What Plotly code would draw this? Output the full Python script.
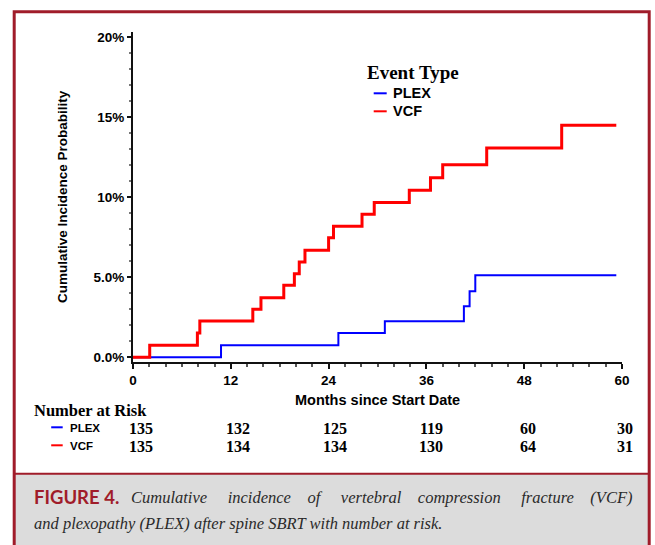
import plotly.graph_objects as go

# ---------------- data ----------------
vcf_months = [0, 2.05, 7.9, 8.2, 14.7, 15.7, 18.5, 19.8, 20.4, 21.1, 24.0, 24.6,
              28.1, 29.6, 33.9, 36.5, 38.0, 43.4, 52.6, 59.3]
vcf_cif = [0, 0.75, 1.52, 2.27, 3.0, 3.73, 4.5, 5.23, 5.96, 6.7, 7.48, 8.2,
           8.94, 9.67, 10.44, 11.23, 12.04, 13.08, 14.5, 14.5]

plex_months = [0, 10.8, 25.2, 30.9, 40.6, 41.3, 42.0, 59.3]
plex_cif = [0, 0.75, 1.52, 2.25, 3.19, 4.13, 5.13, 5.13]

risk_times = [0, 12, 24, 36, 48, 60]
risk_plex = [135, 132, 125, 119, 60, 30]
risk_vcf = [135, 134, 134, 130, 64, 31]

x_tick_vals = [0, 12, 24, 36, 48, 60]
y_tick_vals = [0, 5, 10, 15, 20]
y_tick_text = ["0.0%", "5.0%", "10%", "15%", "20%"]

series_names = ["PLEX", "VCF"]
series_colors = ["#0000ff", "#ff0000"]

caption_label = "FIGURE 4."
caption_line1 = "Cumulative incidence of vertebral compression fracture (VCF)"
caption_line2 = "and plexopathy (PLEX) after spine SBRT with number at risk."

# ---------------- layout geometry ----------------
W, H = 655, 545
L, R, T, B = 133.3, 32.7, 31.7, 183.3
PW, PH = W - L - R, H - T - B
DARK_RED = "#a01c2a"
SANS = "Liberation Sans, Arial, sans-serif"
SERIF = "Liberation Serif, Times New Roman, serif"


def px_x(px):
    return (px - L) / PW


def px_y(py):
    return (H - B - py) / PH


fig = go.Figure()
fig.add_trace(go.Scatter(x=plex_months, y=plex_cif, mode="lines", name="PLEX",
                         line=dict(color=series_colors[0], width=2, shape="hv")))
fig.add_trace(go.Scatter(x=vcf_months, y=vcf_cif, mode="lines", name="VCF",
                         line=dict(color=series_colors[1], width=3, shape="hv")))

shapes = []
annotations = []

# caption background + frame
shapes.append(dict(type="rect", xref="paper", yref="paper", layer="below",
                   x0=px_x(14.5), x1=px_x(649.5), y0=px_y(560), y1=px_y(473.5),
                   fillcolor="#dcdcdc", line=dict(width=0)))
shapes.append(dict(type="line", xref="paper", yref="paper",
                   x0=px_x(14.5), x1=px_x(649.5), y0=px_y(473.5), y1=px_y(473.5),
                   line=dict(color=DARK_RED, width=2)))
shapes.append(dict(type="rect", xref="paper", yref="paper",
                   x0=px_x(14.5), x1=px_x(649.5), y0=px_y(570), y1=px_y(11.5),
                   line=dict(color=DARK_RED, width=3)))

# legend (Event Type)
annotations.append(dict(xref="paper", yref="paper", x=px_x(413.5), y=px_y(72),
                        text="Event Type", showarrow=False, xanchor="center", yanchor="middle",
                        font=dict(family=SERIF, size=19, color="black", weight="bold")))
for i, (nm, col) in enumerate(zip(series_names, series_colors)):
    yy = [93, 111][i]
    shapes.append(dict(type="line", xref="paper", yref="paper",
                       x0=px_x(374), x1=px_x(387), y0=px_y(yy), y1=px_y(yy),
                       line=dict(color=col, width=2)))
    annotations.append(dict(xref="paper", yref="paper", x=px_x(391.5), y=px_y(yy),
                            text=nm, showarrow=False, xanchor="left", yanchor="middle",
                            font=dict(family=SANS, size=14.5, color="black", weight="bold")))

# axis titles
annotations.append(dict(xref="paper", yref="paper", x=0.5, y=px_y(400),
                        text="Months since Start Date", showarrow=False,
                        xanchor="center", yanchor="middle",
                        font=dict(family=SANS, size=14.5, color="black", weight="bold")))
annotations.append(dict(xref="paper", yref="paper", x=px_x(63), y=px_y(196),
                        text="Cumulative Incidence Probability", showarrow=False,
                        textangle=-90, xanchor="center", yanchor="middle",
                        font=dict(family=SANS, size=13.5, color="black", weight="bold")))

# number at risk table
annotations.append(dict(xref="paper", yref="paper", x=px_x(32), y=px_y(410),
                        text="Number at Risk", showarrow=False, xanchor="left", yanchor="middle",
                        font=dict(family=SERIF, size=16.5, color="black", weight="bold")))
for i, (nm, col, vals) in enumerate(zip(series_names, series_colors, [risk_plex, risk_vcf])):
    yy = [428, 446][i]
    shapes.append(dict(type="line", xref="paper", yref="paper",
                       x0=px_x(51.5), x1=px_x(63), y0=px_y(yy - 1), y1=px_y(yy - 1),
                       line=dict(color=col, width=2)))
    annotations.append(dict(xref="paper", yref="paper", x=px_x(68), y=px_y(yy),
                            text=nm, showarrow=False, xanchor="left", yanchor="middle",
                            font=dict(family=SANS, size=11.5, color="black", weight="bold")))
    for t, n in zip(risk_times, vals):
        annotations.append(dict(xref="x", yref="paper", x=t, y=px_y(yy),
                                xshift=round(8 - t / 12),
                                text=str(n), showarrow=False, xanchor="center", yanchor="middle",
                                font=dict(family=SERIF, size=16, color="black", weight="bold")))

# caption (first line spread out to mimic justified text)
words1 = caption_line1.split(" ")
gap_wide = " \u00a0\u00a0\u00a0\u00a0"
gap_narrow = " \u00a0\u00a0\u00a0"
line1_text = words1[0]
for k, w in enumerate(words1[1:]):
    line1_text += (gap_wide if k % 2 == 0 else gap_narrow) + w

annotations.append(dict(xref="paper", yref="paper", x=px_x(32), y=px_y(497),
                        text=caption_label, showarrow=False, xanchor="left", yanchor="middle",
                        font=dict(family="Lato, Open Sans, sans-serif", size=18.5, color=DARK_RED,
                                  weight="bold")))
annotations.append(dict(xref="paper", yref="paper", x=px_x(129), y=px_y(497),
                        text=line1_text,
                        showarrow=False, xanchor="left", yanchor="middle",
                        font=dict(family=SERIF, size=16.5, color="#2a2a2a", style="italic")))
annotations.append(dict(xref="paper", yref="paper", x=px_x(32), y=px_y(523),
                        text=caption_line2, showarrow=False, xanchor="left", yanchor="middle",
                        font=dict(family=SERIF, size=16.5, color="#2a2a2a", style="italic")))

fig.update_layout(
    width=W, height=H,
    margin=dict(l=L, r=R, t=T, b=B, autoexpand=False),
    paper_bgcolor="white", plot_bgcolor="white",
    showlegend=False,
    shapes=shapes, annotations=annotations,
    xaxis=dict(range=[0, 60], tickvals=x_tick_vals, showgrid=False, zeroline=False,
               showline=True, linecolor="#111", linewidth=2,
               ticks="outside", ticklen=5, tickwidth=1.5, tickcolor="#111",
               minor=dict(dtick=2, tick0=0, ticks="outside", ticklen=3, tickcolor="#555"),
               tickfont=dict(family=SANS, size=13.5, color="black", weight="bold")),
    yaxis=dict(range=[-0.29, 20.33], tickvals=y_tick_vals, ticktext=y_tick_text,
               showgrid=False, zeroline=False,
               showline=True, linecolor="#111", linewidth=2,
               ticks="outside", ticklen=4, tickwidth=1.5, tickcolor="#111",
               minor=dict(dtick=1, tick0=0, ticks="outside", ticklen=2, tickcolor="#777"),
               tickfont=dict(family=SANS, size=13.5, color="black", weight="bold")),
)

fig.write_html("out.html")
